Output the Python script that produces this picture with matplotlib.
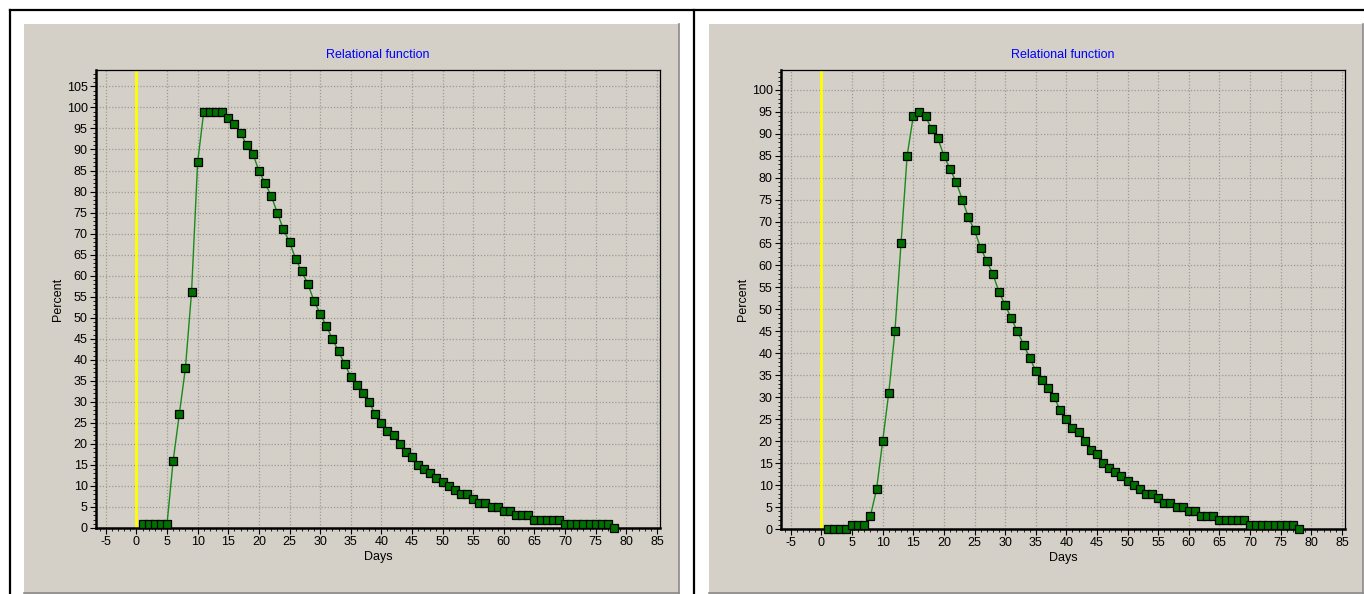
import matplotlib
matplotlib.use("Agg")
import matplotlib.pyplot as plt
from matplotlib.lines import Line2D
from matplotlib.patches import Rectangle
from matplotlib.ticker import MultipleLocator

plt.rcParams["font.family"] = ["Liberation Sans", "DejaVu Sans"]
plt.rcParams["font.size"] = 9
plt.rcParams["axes.unicode_minus"] = False

# data
days = list(range(1, 79))
left_pct = [1, 1, 1, 1, 1, 16, 27, 38, 56, 87,
            99, 99, 99, 99, 97.5, 96, 94, 91, 89, 85,
            82, 79, 75, 71, 68, 64, 61, 58, 54, 51,
            48, 45, 42, 39, 36, 34, 32, 30, 27, 25,
            23, 22, 20, 18, 17, 15, 14, 13, 12, 11,
            10, 9, 8, 8, 7, 6, 6, 5, 5, 4,
            4, 3, 3, 3, 2, 2, 2, 2, 2, 1,
            1, 1, 1, 1, 1, 1, 1, 0]
right_pct = [0, 0, 0, 0, 1, 1, 1, 3, 9, 20,
             31, 45, 65, 85, 94, 95, 94, 91, 89, 85,
             82, 79, 75, 71, 68, 64, 61, 58, 54, 51,
             48, 45, 42, 39, 36, 34, 32, 30, 27, 25,
             23, 22, 20, 18, 17, 15, 14, 13, 12, 11,
             10, 9, 8, 8, 7, 6, 6, 5, 5, 4,
             4, 3, 3, 3, 2, 2, 2, 2, 2, 1,
             1, 1, 1, 1, 1, 1, 1, 0]
x_ticks = list(range(-5, 90, 5))

W, H = 1364, 594
BG = "#D4D0C8"

fig = plt.figure(figsize=(W / 100, H / 100), dpi=100)
fig.patch.set_facecolor("white")


def fx(px):
    return px / W


def fy(py):
    return 1 - py / H


# gray panels with a darker edge on the right and bottom
for x0, x1 in [(24, 679), (709, 1363)]:
    fig.add_artist(Rectangle((fx(x0), 0), fx(x1 - x0), fy(24), transform=fig.transFigure,
                             facecolor=BG, edgecolor="none", zorder=0))
    fig.add_artist(Line2D([fx(x1), fx(x1)], [0, fy(24)], transform=fig.transFigure,
                          color="#8a8a8a", lw=1.2, zorder=1))
    fig.add_artist(Line2D([fx(x0), fx(x1)], [fy(593), fy(593)], transform=fig.transFigure,
                          color="#8a8a8a", lw=1.2, zorder=1))

# outer frame lines
fig.add_artist(Line2D([fx(10), 1], [fy(10), fy(10)], transform=fig.transFigure, color="black", lw=1.6))
fig.add_artist(Line2D([fx(10), fx(10)], [0, fy(10)], transform=fig.transFigure, color="black", lw=1.6))
fig.add_artist(Line2D([fx(694), fx(694)], [0, fy(10)], transform=fig.transFigure, color="black", lw=1.6))


def draw_panel(rect, values, y_top):
    ax = fig.add_axes(rect)
    ax.set_facecolor(BG)
    ax.axvline(0, color="#FFFF00", lw=2.0, zorder=2)
    ax.plot(days, values, color="#1a8a1a", lw=1.0, marker="s", markersize=5.5,
            markerfacecolor="#007000", markeredgecolor="black", markeredgewidth=0.9,
            zorder=3, clip_on=False)
    ax.set_xlim(-6.6, 85.5)
    ax.set_ylim(0, max(values) * 1.1)
    ax.set_xticks(x_ticks)
    ax.set_yticks(list(range(0, y_top + 1, 5)))
    ax.xaxis.set_minor_locator(MultipleLocator(1))
    ax.yaxis.set_minor_locator(MultipleLocator(1))
    ax.tick_params(which="major", direction="out", length=4, width=0.8, pad=2, labelsize=9)
    ax.tick_params(which="minor", direction="out", length=2, width=0.6)
    ax.grid(True, which="major", color="#9a9a9a", linestyle=(0, (1, 1.5)), lw=0.9)
    ax.set_axisbelow(True)
    for side in ["left", "bottom"]:
        ax.spines[side].set_linewidth(1.8)
    for side in ["top", "right"]:
        ax.spines[side].set_linewidth(0.9)
    ax.set_title("Relational function", color="#0000FF", fontsize=9, pad=9)
    ax.set_xlabel("Days", labelpad=2)
    ax.set_ylabel("Percent", labelpad=2)
    return ax


draw_panel([fx(96), fy(528), fx(660 - 96), fy(70) - fy(528)], left_pct, 105)
draw_panel([fx(781), fy(529), fx(1345 - 781), fy(70) - fy(529)], right_pct, 100)

fig.savefig("out.png", dpi=100, facecolor=fig.get_facecolor())
